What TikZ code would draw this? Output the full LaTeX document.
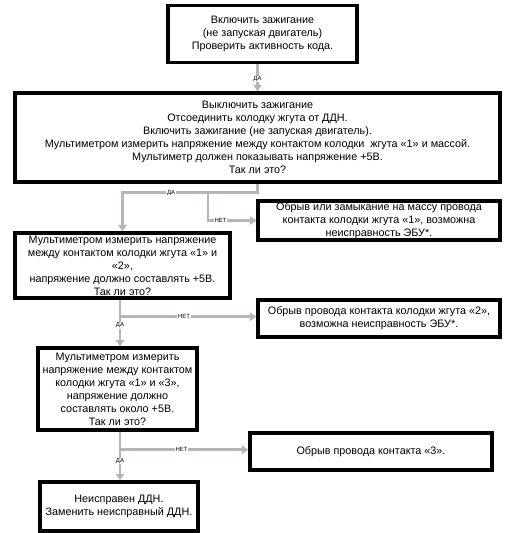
\documentclass[tikz,border=0pt]{standalone}
\usepackage{fontspec}
\setmainfont{Liberation Sans}
\usetikzlibrary{arrows.meta,calc}
\definecolor{linegray}{RGB}{176,186,176}

\begin{document}
\begin{tikzpicture}[x=1pt, y=-1pt,
    every node/.style={font=\fontsize{10.8}{13}\selectfont},
    blok/.style={draw=black, line width=3.4pt, fill=white, align=center, inner sep=0pt},
    flow/.style={draw=linegray, line width=2.8pt, -{Triangle[width=8.5pt,length=6.5pt]}},
    lbl/.style={fill=white, inner sep=0.6pt, font=\fontsize{6}{6}\selectfont}]
    \useasboundingbox (0,0) rectangle (526,533);

    % Блоки
    \node[blok, minimum width=189pt, minimum height=57pt] (b1) at (262.5,34)
        {Включить зажигание\\(не запуская двигатель)\\Проверить активность кода.};
    \node[blok, minimum width=485pt, minimum height=89pt] (b2) at (257.5,137.5)
        {Выключить зажигание\\Отсоединить колодку жгута от ДДН.\\Включить зажигание (не запуская двигатель).\\Мультиметром измерить напряжение между контактом колодки~ жгута «1» и массой.\\Мультиметр должен показывать напряжение +5В.\\Так ли это?};
    \node[blok, minimum width=242pt, minimum height=39pt] (b3) at (379,220.5)
        {Обрыв или замыкание на массу провода\\контакта колодки жгута «1», возможна\\неисправность ЭБУ*.};
    \node[blok, minimum width=215pt, minimum height=65pt] (b4) at (122.5,265.5)
        {Мультиметром измерить напряжение\\между контактом колодки жгута «1» и\\«2»,\\напряжение должно составлять +5В.\\Так ли это?};
    \node[blok, minimum width=242pt, minimum height=37pt] (b5) at (379,318.5)
        {Обрыв провода контакта колодки жгута «2»,\\возможна неисправность ЭБУ*.};
    \node[blok, minimum width=159pt, minimum height=82pt] (b6) at (117.5,389)
        {Мультиметром измерить\\напряжение между контактом\\колодки жгута «1» и «3»,\\напряжение должно\\составлять около +5В.\\Так ли это?};
    \node[blok, minimum width=242pt, minimum height=37pt] (b7) at (371,451.5)
        {Обрыв провода контакта «3».};
    \node[blok, minimum width=158pt, minimum height=49pt] (b8) at (119,506.5)
        {Неисправен ДДН.\\Заменить неисправный ДДН.};

    % Точки ветвления
    \coordinate (j1) at ($(b2.south)+(0,9)$);
    \coordinate (j2) at (208,191);
    \coordinate (j3) at ($(b4.south)+(-2.5,17)$);
    \coordinate (j4) at ($(b6.south)+(2.5,18)$);

    % Связи
    \draw[flow] (b2.north |- b1.south) -- node[lbl, pos=0.55] {ДА} (b2.north);
    \draw[flow] (b2.south) -- (j1) -| node[lbl, pos=0.32] {ДА} (b4.north);
    \draw[flow] (j2) |- node[lbl, pos=0.63] {НЕТ} (b3.west);
    \draw[flow] (j3 |- b4.south) -- node[lbl, pos=0.55] {ДА} (j3 |- b6.north);
    \draw[flow] (j3) -- node[lbl, pos=0.47] {НЕТ} (j3 -| b5.west);
    \draw[flow] (j4 |- b6.south) -- node[lbl, pos=0.6] {ДА} (j4 |- b8.north);
    \draw[flow] (j4) -- node[lbl, pos=0.48] {НЕТ} (j4 -| b7.west);
\end{tikzpicture}
\end{document}
